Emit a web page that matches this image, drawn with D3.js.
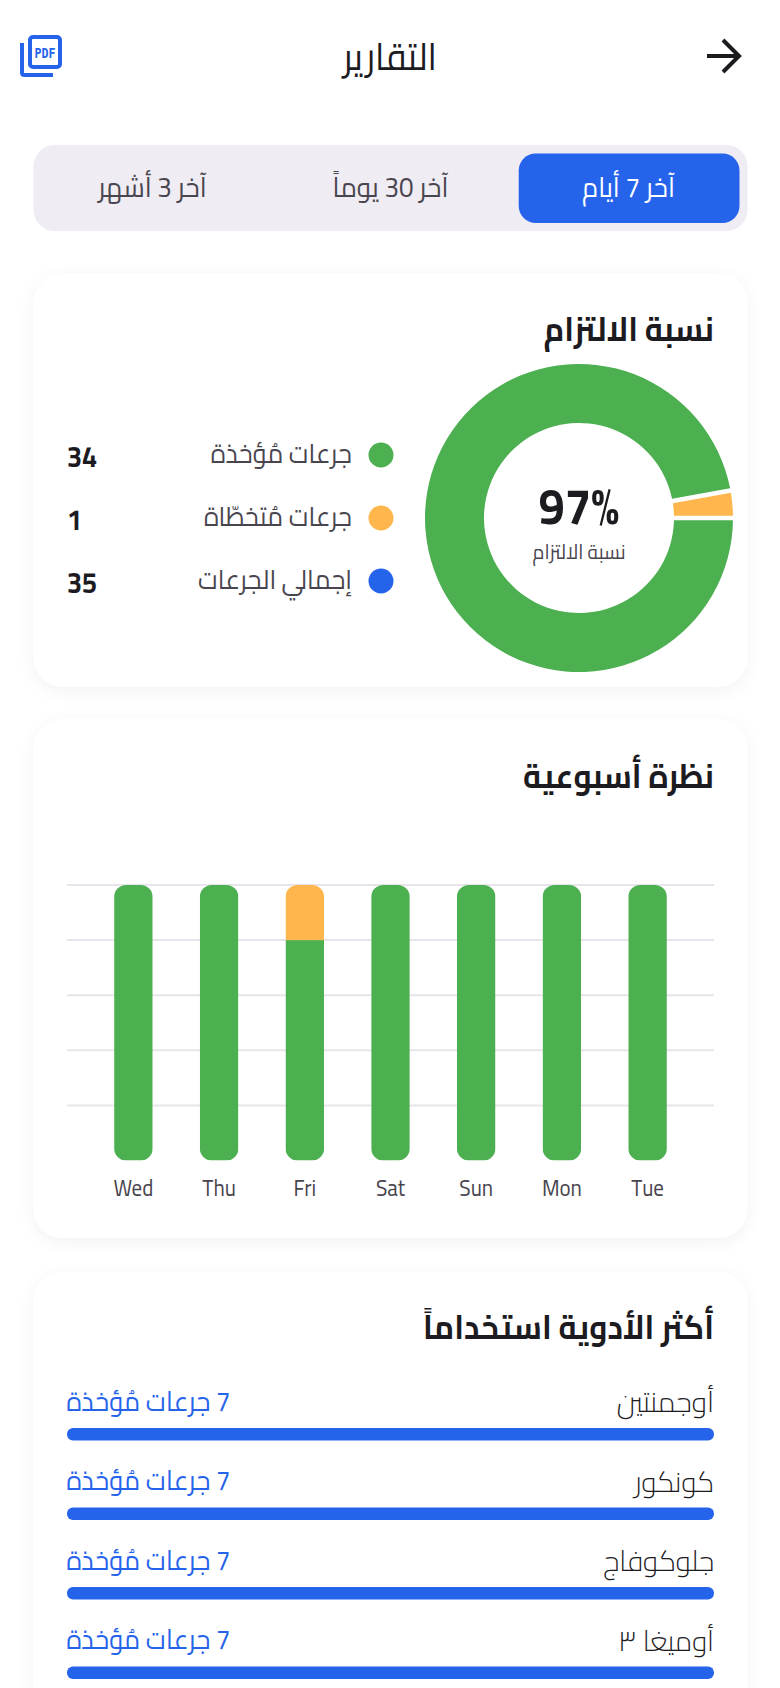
<!DOCTYPE html>
<html lang="ar"><head><meta charset="utf-8">
<script src="https://cdn.jsdelivr.net/npm/d3@7"></script>
<style>
  html, body { margin: 0; background: #fff; overflow: hidden; }
  svg { display: block; }
  text { font-family: "Cairo", "Noto Sans", sans-serif; }
  .rtl { direction: rtl; }
</style></head><body>
<script>
// data
const pageTitle = "التقارير";
const tabs = ["آخر 7 أيام", "آخر 30 يوماً", "آخر 3 أشهر"];
const adherenceTitle = "نسبة الالتزام";
const adherencePercent = "97%";
const legendLabels = ["جرعات مُؤخذة", "جرعات مُتخطّاة", "إجمالي الجرعات"];
const legendValues = [34, 1, 35];
const weeklyTitle = "نظرة أسبوعية";
const days = ["Wed", "Thu", "Fri", "Sat", "Sun", "Mon", "Tue"];
const takenByDay = [5, 5, 4, 5, 5, 5, 5];
const missedByDay = [0, 0, 1, 0, 0, 0, 0];
const gridTicks = [1, 2, 3, 4, 5];
const medsTitle = "أكثر الأدوية استخداماً";
const medNames = ["أوجمنتين", "كونكور", "جلوكوفاج", "أوميغا ٣"];
const medTaken = [7, 7, 7, 7];
const medUnit = "جرعات مُؤخذة";

const GREEN = "#4CAF50", ORANGE = "#FFB74D", BLUE = "#2563EB", DARK = "#1C1B1F", GREY = "#49454F";
const width = 780, height = 1688;
const left = 67, right = 714;
const cardLeft = 33.5, cardWidth = 714;
const NARROW = 0.926; // the reference's Cairo is a bit more condensed than the installed one

const svg = d3.select("body").append("svg").attr("width", width).attr("height", height);

const shadow = svg.append("defs").append("filter").attr("id", "card-shadow")
    .attr("x", "-10%").attr("y", "-10%").attr("width", "120%").attr("height", "120%");
shadow.append("feDropShadow").attr("dx", 0).attr("dy", 4).attr("stdDeviation", 8)
    .attr("flood-color", "#000").attr("flood-opacity", 0.05);

// squeeze a text to k of the width it has at its regular weight, then set the weight it is drawn in
function narrow(sel, k, weight) {
  sel.each(function() {
    this.setAttribute("textLength", this.getComputedTextLength() * k);
    this.setAttribute("lengthAdjust", "spacingAndGlyphs");
    if (weight) this.setAttribute("font-weight", weight);
  });
  return sel;
}

function label(g, x, y, str, size, weight, fill, anchor, drawWeight) {
  return g.append("text")
      .attr("class", "rtl")
      .attr("x", x).attr("y", y)
      .attr("dy", "0.35em")
      .attr("text-anchor", anchor || "start") // start = right edge in rtl
      .attr("font-size", size).attr("font-weight", weight)
      .attr("fill", fill)
      .text(str)
      .call(narrow, NARROW, drawWeight);
}

function card(y, h) {
  svg.append("rect").attr("x", cardLeft).attr("y", y).attr("width", cardWidth).attr("height", h)
      .attr("rx", 30).attr("fill", "#fff").attr("filter", "url(#card-shadow)");
}

// header
const pdf = svg.append("g").attr("fill", "none").attr("stroke", BLUE).attr("stroke-width", 4);
pdf.append("rect").attr("x", 30).attr("y", 37).attr("width", 30).attr("height", 30).attr("rx", 3);
pdf.append("path").attr("d", "M22 43V72.5q0 2.5 2.5 2.5H53");
svg.append("text").attr("x", 45).attr("y", 53).attr("dy", "0.35em").attr("text-anchor", "middle")
    .attr("font-size", 14).attr("font-weight", 700).attr("fill", BLUE)
    .attr("textLength", 21).attr("lengthAdjust", "spacingAndGlyphs")
    .style("font-family", "'DejaVu Sans Mono'").text("PDF");
label(svg, 390, 57, pageTitle, 37.8, 400, DARK, "middle");
svg.append("path").attr("d", "M707 56H738M723 40L739 56L723 72")
    .attr("fill", "none").attr("stroke", DARK).attr("stroke-width", 4);

// period tabs
svg.append("rect").attr("x", cardLeft).attr("y", 145).attr("width", cardWidth).attr("height", 86)
    .attr("rx", 21).attr("fill", "#EFECF3");
const tabX = d3.scaleBand().domain(tabs).range([cardLeft + cardWidth, cardLeft]);
svg.append("rect").attr("x", tabX(tabs[0]) + 9.2).attr("y", 153.5)
    .attr("width", tabX.bandwidth() - 17.2).attr("height", 69.5).attr("rx", 17).attr("fill", BLUE);
tabs.forEach((t, i) => {
  label(svg, tabX(t) + tabX.bandwidth() / 2, 187, t, 28, 400, i === 0 ? "#fff" : GREY, "middle");
});

// adherence card
card(273, 414);
label(svg, right, 329, adherenceTitle, 33.7, 700, DARK);

const pie = d3.pie().sort(null).value(d => d)
    .startAngle(Math.PI / 2).endAngle(Math.PI * 2.5);
const arc = d3.arc().innerRadius(95).outerRadius(154).padAngle(0.03).padRadius(150);
const donut = svg.append("g").attr("transform", "translate(579,518)");
donut.selectAll("path")
  .data(pie(legendValues.slice(0, 2)))
  .join("path")
    .attr("d", arc)
    .attr("fill", (d, i) => [GREEN, ORANGE][i]);
label(svg, 579, 506, adherencePercent, 51, 700, DARK, "middle").style("direction", "ltr");
label(svg, 579, 552, adherenceTitle, 20.5, 400, GREY, "middle");

const legendY = d3.scalePoint().domain(legendLabels).range([455, 581]);
legendLabels.forEach((t, i) => {
  const y = legendY(t);
  svg.append("circle").attr("cx", 381).attr("cy", y).attr("r", 12.5).attr("fill", [GREEN, ORANGE, BLUE][i]);
  label(svg, 352, y - 1, t, 27, 400, GREY);
  svg.append("text").attr("x", left).attr("y", y + 2).attr("dy", "0.35em")
      .attr("font-size", 29).attr("font-weight", 700).attr("fill", DARK).text(legendValues[i])
      .call(narrow, NARROW);
});

// weekly card
card(719, 519);
label(svg, right, 776, weeklyTitle, 33.7, 700, DARK);

const x = d3.scaleBand().domain(days).range([left, right]).padding(0.55);
const y = d3.scaleLinear().domain([0, 5]).range([1160.5, 885]);
svg.append("g").selectAll("line").data(gridTicks).join("line")
    .attr("x1", left).attr("x2", right)
    .attr("y1", d => y(d)).attr("y2", d => y(d))
    .attr("stroke", "#E7E5EB").attr("stroke-width", 2);

const barClip = svg.select("defs").selectAll("clipPath").data(days).join("clipPath")
    .attr("id", (d, i) => "bar-" + i);
barClip.append("rect")
    .attr("x", d => x(d)).attr("width", x.bandwidth())
    .attr("y", y(5)).attr("height", y(0) - y(5)).attr("rx", 12);

const bars = svg.append("g").selectAll("g").data(days).join("g")
    .attr("clip-path", (d, i) => `url(#bar-${i})`);
bars.append("rect").attr("x", d => x(d)).attr("width", x.bandwidth())
    .attr("y", (d, i) => y(takenByDay[i])).attr("height", (d, i) => y(0) - y(takenByDay[i]))
    .attr("fill", GREEN);
bars.append("rect").attr("x", d => x(d)).attr("width", x.bandwidth())
    .attr("y", (d, i) => y(takenByDay[i] + missedByDay[i]))
    .attr("height", (d, i) => y(takenByDay[i]) - y(takenByDay[i] + missedByDay[i]))
    .attr("fill", ORANGE);

const xAxis = svg.append("g").attr("transform", "translate(0,1160.5)")
    .call(d3.axisBottom(x).tickSize(0).tickPadding(19));
xAxis.select(".domain").remove();
xAxis.selectAll("text").attr("font-size", 22.7).attr("fill", GREY)
    .style("font-family", "Cairo").call(narrow, NARROW);

// top medications card
card(1272, 500);
label(svg, right, 1327, medsTitle, 33.7, 700, DARK);

const rowY = d3.scaleBand().domain(medNames).range([1363, 1681]);
const fill = d3.scaleLinear().domain([0, 7]).range([left, right]);
medNames.forEach((m, i) => {
  const y0 = rowY(m);
  label(svg, right, y0 + 39, m, 29, 400, DARK, "start", 300);
  label(svg, fill(0) - 0.5, y0 + 38, medTaken[i] + " " + medUnit, 27.5, 400, BLUE, "end");
  svg.append("rect").attr("x", fill(0)).attr("y", y0 + 65)
      .attr("width", fill(medTaken[i]) - fill(0)).attr("height", 12.5)
      .attr("rx", 6).attr("fill", BLUE);
});
</script></body></html>
